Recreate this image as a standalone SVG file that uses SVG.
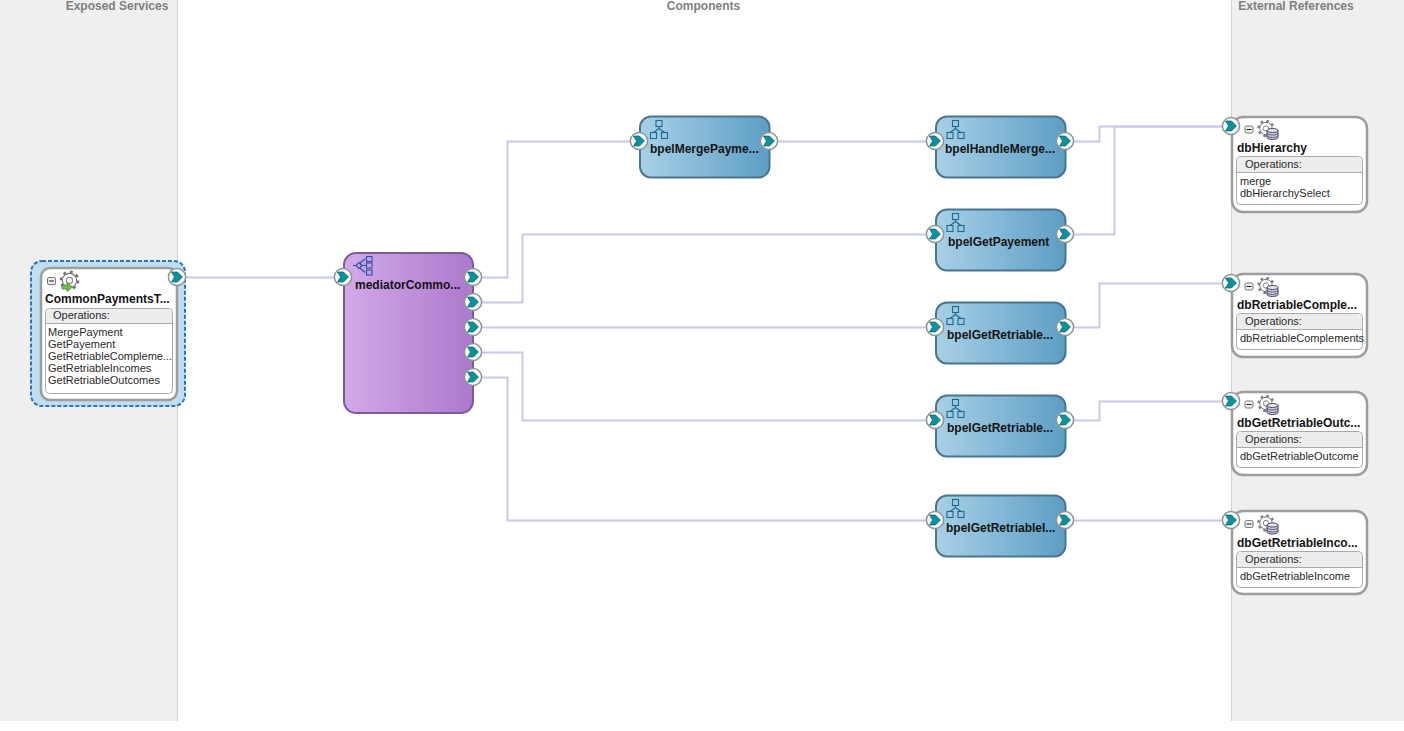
<svg xmlns="http://www.w3.org/2000/svg" xmlns:xlink="http://www.w3.org/1999/xlink" width="1404" height="731" viewBox="0 0 1404 731">
<style>
text{font-family:"Liberation Sans",Arial,sans-serif;fill:#111}
.hd{font-size:12px;font-weight:bold;fill:#808080;text-anchor:middle}
.nm{font-size:12px;font-weight:bold;fill:#141414}
.op{font-size:11px;fill:#2a2a2a}
.oph{font-size:11px;fill:#2a2a2a}
.panel{fill:#efefef}
.sep{stroke:#d2d2d2;stroke-width:1;fill:none}
.bpel{fill:url(#gb);stroke:#4a7590;stroke-width:2}
.svc{fill:#fff;stroke:#9d9d9d;stroke-width:2.5}
.ops{fill:#fff;stroke:#aaa;stroke-width:1}
.hdr{fill:#ededed;stroke:none}
.div{stroke:#aaa;stroke-width:1}
.ic{fill:none;stroke:#1c6a8e;stroke-width:1.1}
#conn path{fill:none;stroke:#c9c9ef;stroke-width:2}
</style>
<defs>
<linearGradient id="gb" x1="0" x2="1" y1="0" y2="0"><stop offset="0" stop-color="#a8d0e6"/><stop offset="1" stop-color="#5d9ec4"/></linearGradient>
<linearGradient id="gm" x1="0" x2="1" y1="0" y2="0"><stop offset="0" stop-color="#d2aae8"/><stop offset="1" stop-color="#ad78cd"/></linearGradient>
<g id="port"><circle r="8.600" fill="#fff" stroke="#8a9696" stroke-width="1.500"/><path d="M-5.500,-5 H0.500 L5.500,0 L0.500,5 H-5.500 L-2.500,0 Z" fill="#0a939f" stroke="#0b5f6b" stroke-width="0.700"/></g>
<g id="tree"><rect x="-2.500" y="0" width="6" height="6" class="ic"/><rect x="-8" y="12" width="6" height="6" class="ic"/><rect x="3" y="12" width="6" height="6" class="ic"/><path d="M0.500,6 V8 M-5,12 L0.500,8 L6,12" class="ic"/></g>
<g id="minus"><rect x="-4" y="-3.500" width="8" height="7" rx="1.500" fill="#eee" stroke="#777"/><path d="M-2.500,0 H2.500" stroke="#222"/></g>
<g id="gear"><circle r="7.500" fill="none" stroke="#777" stroke-width="2.200" stroke-dasharray="2.600 3.300"/><circle r="6.200" fill="#fff" stroke="#777" stroke-width="1"/><circle r="2.700" fill="#fff" stroke="#888"/></g>
<g id="db"><use xlink:href="#gear"/><path d="M1,2 V9 A5.500,2 0 0 0 12,9 V2 Z" fill="#c8c8e4" stroke="#445"/><ellipse cx="6.500" cy="2" rx="5.500" ry="2" fill="#e3e4f2" stroke="#445"/><path d="M1,4.500 A5.500,2 0 0 0 12,4.500 M1,7 A5.500,2 0 0 0 12,7" fill="none" stroke="#445" stroke-width=".8"/></g>
</defs>
<rect width="1404" height="731" fill="#fff"/>
<rect class="panel" x="0" y="0" width="177" height="721"/>
<rect class="panel" x="1232" y="0" width="172" height="721"/>
<path class="sep" d="M177.500,0 V721 M1231.500,0 V721"/>
<text class="hd" x="117" y="10">Exposed Services</text>
<text class="hd" x="703.500" y="10">Components</text>
<text class="hd" x="1296" y="10">External References</text>

<g id="conn">
<path d="M185,277.500 H343"/>
<path d="M473,277.500 H507.500 V141.500 H639"/>
<path d="M473,302.500 H522.500 V234.500 H935"/>
<path d="M473,327.500 H935"/>
<path d="M473,352.500 H522.500 V420.500 H935"/>
<path d="M473,377.500 H507.500 V520.500 H935"/>
<path d="M769,141.500 H935"/>
<path d="M1065,141.500 H1099.500 V126.500 H1231"/>
<path d="M1065,234.500 H1114.500 V126.500 H1231"/>
<path d="M1065,327.500 H1099.500 V283.500 H1231"/>
<path d="M1065,420.500 H1099.500 V401.500 H1231"/>
<path d="M1065,520.500 H1231"/>
</g>

<g id="CommonPaymentsT">
<rect x="31" y="261" width="154" height="145" rx="11" fill="#bfdfee" stroke="#2e72c4" stroke-width="2" stroke-dasharray="4 2"/>
<rect class="svc" x="41" y="268" width="136" height="132" rx="9"/>
<use xlink:href="#minus" x="51.500" y="281"/>
<use xlink:href="#gear" transform="translate(69.500,280.500) scale(1.150)"/>
<path d="M62,285 h5 v-2.500 l5.500,4.500 l-5.500,4.500 v-2.500 h-5 z" fill="#6fbf4a" stroke="#3c8a2c" stroke-width=".7"/>
<text class="nm" x="45" y="303">CommonPaymentsT...</text>
<rect class="ops" x="45.500" y="308.500" width="127" height="85" rx="4"/>
<path class="hdr" d="M46,323 V313 Q46,309 50,309 H168 Q172,309 172,313 V323 Z"/>
<path class="div" d="M46,323.500 H172"/>
<text class="oph" x="53" y="319">Operations:</text>
<text class="op" x="48" y="336">MergePayment</text>
<text class="op" x="48" y="348">GetPayement</text>
<text class="op" x="48" y="360">GetRetriableCompleme...</text>
<text class="op" x="48" y="372">GetRetriableIncomes</text>
<text class="op" x="48" y="384">GetRetriableOutcomes</text>
<use xlink:href="#port" x="177" y="277"/>
</g>

<g id="mediatorCommo">
<rect x="344" y="253" width="129" height="160" rx="12" fill="url(#gm)" stroke="#7b5c99" stroke-width="2"/>
<path d="M353,265.500 H357 M361,265.500 H366 M360,263 L365,259 M360,268 L365,272.500" fill="none" stroke="#2a4fa8" stroke-width="1.100"/>
<path d="M359,262.500 L362,265.500 L359,268.500 L356,265.500 Z" fill="none" stroke="#2a4fa8" stroke-width="1.100"/>
<g fill="none" stroke="#2a4fa8" stroke-width="1.100"><rect x="366.500" y="256.500" width="5.500" height="5"/><rect x="366.500" y="263" width="5.500" height="5"/><rect x="366.500" y="270" width="5.500" height="5"/></g>
<text class="nm" x="355" y="289">mediatorCommo...</text>
<use xlink:href="#port" x="343" y="277"/>
<use xlink:href="#port" x="473" y="277"/>
<use xlink:href="#port" x="473" y="302"/>
<use xlink:href="#port" x="473" y="327"/>
<use xlink:href="#port" x="473" y="352"/>
<use xlink:href="#port" x="473" y="377"/>
</g>

<g id="bpelMergePayme">
<rect class="bpel" x="640" y="116.500" width="129.500" height="61" rx="11"/>
<use xlink:href="#tree" x="658.500" y="120.500"/>
<text class="nm" x="650" y="153">bpelMergePayme...</text>
<use xlink:href="#port" x="639" y="141"/><use xlink:href="#port" x="769" y="141"/>
</g>
<g id="bpelHandleMerge">
<rect class="bpel" x="936" y="116.500" width="129.500" height="61" rx="11"/>
<use xlink:href="#tree" x="955" y="120.500"/>
<text class="nm" x="945" y="153">bpelHandleMerge...</text>
<use xlink:href="#port" x="935" y="141"/><use xlink:href="#port" x="1065" y="141"/>
</g>
<g id="bpelGetPayement">
<rect class="bpel" x="936" y="209.500" width="129.500" height="61" rx="11"/>
<use xlink:href="#tree" x="955" y="213.500"/>
<text class="nm" x="948" y="246">bpelGetPayement</text>
<use xlink:href="#port" x="935" y="234"/><use xlink:href="#port" x="1065" y="234"/>
</g>
<g id="bpelGetRetriable1">
<rect class="bpel" x="936" y="302.500" width="129.500" height="61" rx="11"/>
<use xlink:href="#tree" x="955" y="306.500"/>
<text class="nm" x="947" y="339">bpelGetRetriable...</text>
<use xlink:href="#port" x="935" y="327"/><use xlink:href="#port" x="1065" y="327"/>
</g>
<g id="bpelGetRetriable2">
<rect class="bpel" x="936" y="395.500" width="129.500" height="61" rx="11"/>
<use xlink:href="#tree" x="955" y="399.500"/>
<text class="nm" x="947" y="432">bpelGetRetriable...</text>
<use xlink:href="#port" x="935" y="420"/><use xlink:href="#port" x="1065" y="420"/>
</g>
<g id="bpelGetRetriableI">
<rect class="bpel" x="936" y="495.500" width="129.500" height="61" rx="11"/>
<use xlink:href="#tree" x="955" y="499.500"/>
<text class="nm" x="946" y="532">bpelGetRetriableI...</text>
<use xlink:href="#port" x="935" y="520"/><use xlink:href="#port" x="1065" y="520"/>
</g>

<g id="dbHierarchy">
<rect class="svc" x="1232" y="117" width="135" height="95" rx="11"/>
<use xlink:href="#minus" x="1249" y="129.500"/><use xlink:href="#db" x="1266" y="128.500"/>
<text class="nm" x="1237" y="152">dbHierarchy</text>
<rect class="ops" x="1236.500" y="156.500" width="126" height="48" rx="4"/>
<path class="hdr" d="M1237,172 V161 Q1237,157 1241,157 H1358 Q1362,157 1362,161 V172 Z"/>
<path class="div" d="M1237,172.500 H1362"/>
<text class="oph" x="1245" y="168">Operations:</text>
<text class="op" x="1240" y="185">merge</text>
<text class="op" x="1240" y="197">dbHierarchySelect</text>
<use xlink:href="#port" x="1231" y="126"/>
</g>
<g id="dbRetriableComple">
<rect class="svc" x="1232" y="274" width="135" height="83" rx="11"/>
<use xlink:href="#minus" x="1249" y="286.500"/><use xlink:href="#db" x="1266" y="285.500"/>
<text class="nm" x="1237" y="309">dbRetriableComple...</text>
<rect class="ops" x="1236.500" y="313.500" width="126" height="36" rx="4"/>
<path class="hdr" d="M1237,329 V318 Q1237,314 1241,314 H1358 Q1362,314 1362,318 V329 Z"/>
<path class="div" d="M1237,329.500 H1362"/>
<text class="oph" x="1245" y="325">Operations:</text>
<text class="op" x="1240" y="342">dbRetriableComplements</text>
<use xlink:href="#port" x="1231" y="283"/>
</g>
<g id="dbGetRetriableOutc">
<rect class="svc" x="1232" y="392" width="135" height="83" rx="11"/>
<use xlink:href="#minus" x="1249" y="404.500"/><use xlink:href="#db" x="1266" y="403.500"/>
<text class="nm" x="1237" y="427">dbGetRetriableOutc...</text>
<rect class="ops" x="1236.500" y="431.500" width="126" height="36" rx="4"/>
<path class="hdr" d="M1237,447 V436 Q1237,432 1241,432 H1358 Q1362,432 1362,436 V447 Z"/>
<path class="div" d="M1237,447.500 H1362"/>
<text class="oph" x="1245" y="443">Operations:</text>
<text class="op" x="1240" y="460">dbGetRetriableOutcome</text>
<use xlink:href="#port" x="1231" y="401"/>
</g>
<g id="dbGetRetriableInco">
<rect class="svc" x="1232" y="511" width="135" height="83" rx="11"/>
<use xlink:href="#minus" x="1249" y="524"/><use xlink:href="#db" x="1266" y="523"/>
<text class="nm" x="1237" y="547">dbGetRetriableInco...</text>
<rect class="ops" x="1236.500" y="551.500" width="126" height="36" rx="4"/>
<path class="hdr" d="M1237,567 V556 Q1237,552 1241,552 H1358 Q1362,552 1362,556 V567 Z"/>
<path class="div" d="M1237,567.500 H1362"/>
<text class="oph" x="1245" y="563">Operations:</text>
<text class="op" x="1240" y="580">dbGetRetriableIncome</text>
<use xlink:href="#port" x="1231" y="520"/>
</g>
</svg>
